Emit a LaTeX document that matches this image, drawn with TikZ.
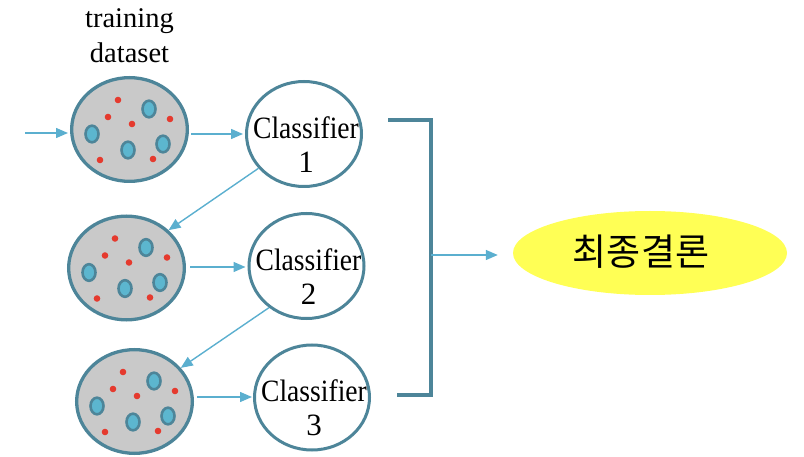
\documentclass[tikz,border=0pt]{standalone}
\usepackage{fontspec}
\setmainfont{Liberation Serif}
\newfontfamily\krfont{Noto Sans CJK KR}
\usetikzlibrary{shapes.geometric,arrows.meta}
\definecolor{tealb}{RGB}{77,133,153}
\definecolor{grayf}{RGB}{201,201,201}
\definecolor{reddot}{RGB}{229,58,46}
\definecolor{ovalf}{RGB}{92,182,207}
\definecolor{arrowc}{RGB}{91,175,207}
\definecolor{yellowf}{RGB}{255,255,85}
\tikzset{
  dataset/.style={ellipse, draw=tealb, line width=3.3pt, fill=grayf,
    minimum width=115.7pt, minimum height=103.7pt, inner sep=0pt},
  clf/.style={ellipse, draw=tealb, line width=3pt, fill=white,
    minimum width=115pt, minimum height=105pt, inner sep=0pt},
  clftext/.style={anchor=south, inner sep=0pt, align=center,
    font=\fontsize{31}{34}\selectfont},
  flow/.style={draw=arrowc, line width=1.4pt,
    -{Triangle[length=12pt,width=10pt]}},
  bracketline/.style={draw=tealb, line width=3.5pt},
  final/.style={ellipse, fill=yellowf, minimum width=274pt, minimum height=84pt, inner sep=0pt},
  dots/.pic={
    \foreach \p in {(-11.5,-29.5),(-21.5,-12.5),(2.5,-5.5),(40.5,-10.5),(-29.5,30.5),(23.5,29.5)}
      \fill[reddot] \p circle (3.3pt);
    \foreach \p in {(19.5,-20.5),(-37.5,4.5),(-1.5,20.5),(33.5,14.5)}
      \draw[draw=tealb, line width=2.6pt, fill=ovalf] \p ellipse (6.5pt and 8.3pt);
  }
}
\begin{document}
\begin{tikzpicture}[x=1pt,y=-1pt]
\useasboundingbox (0,0) rectangle (804,457);
% datasets
\node[dataset] (ds1) at (129.5,129.5) {};
\pic at (ds1.center) {dots};
\node[dataset] (ds2) at (126.5,268) {};
\pic at (ds2.center) {dots};
\node[dataset] (ds3) at (134.5,401.5) {};
\pic at (ds3.center) {dots};
\node[anchor=south, inner sep=0pt, align=center, font=\fontsize{28.5}{35}\selectfont] (lbl) at (129.5,63) {training\\dataset};
% classifiers
\node[clf] (c1) at (304,134) {};
\node[clftext] (t1) at ([shift={(2,39)}]c1.center) {\scalebox{0.89}[1]{Classifier}\\1};
\node[clf] (c2) at (306.5,266) {};
\node[clftext] (t2) at ([shift={(2,39)}]c2.center) {\scalebox{0.89}[1]{Classifier}\\2};
\node[clf] (c3) at (312,397.5) {};
\node[clftext] (t3) at ([shift={(2,39)}]c3.center) {\scalebox{0.89}[1]{Classifier}\\3};
% input arrow
\coordinate (in) at (25,133);
\draw[flow, shorten >=2pt] (in) -- (ds1.west |- in);
% dataset to classifier
\draw[flow, shorten <=2pt, shorten >=2pt] (ds1.east |- 0,134) -- (c1.west |- 0,134);
\draw[flow, shorten <=4pt, shorten >=2pt] (ds2.east |- 0,267) -- (c2.west |- 0,267);
\draw[flow, shorten <=3pt, shorten >=1pt] (ds3.east |- 0,397) -- (c3.west |- 0,397);
% classifier to next dataset
\draw[flow] (c1.217) -- (ds2.42);
\draw[flow] (c2.228) -- (ds3.36);
% bracket
\coordinate (b1) at (388,120);
\coordinate (b2) at (431,120);
\coordinate (b3) at (431,395);
\coordinate (b4) at (397,395);
\coordinate (bm) at (431,255);
\draw[bracketline, line join=miter] (b1) -- (b2) -- (b3) -- (b4);
% final
\node[final] (fin) at (650,253) {};
\node[inner sep=0pt, font=\krfont\fontsize{37}{37}\selectfont] (fint) at (641,251.5) {최종결론};
\draw[flow, shorten >=15pt] (bm) -- (fin.west |- bm);
\end{tikzpicture}
\end{document}
